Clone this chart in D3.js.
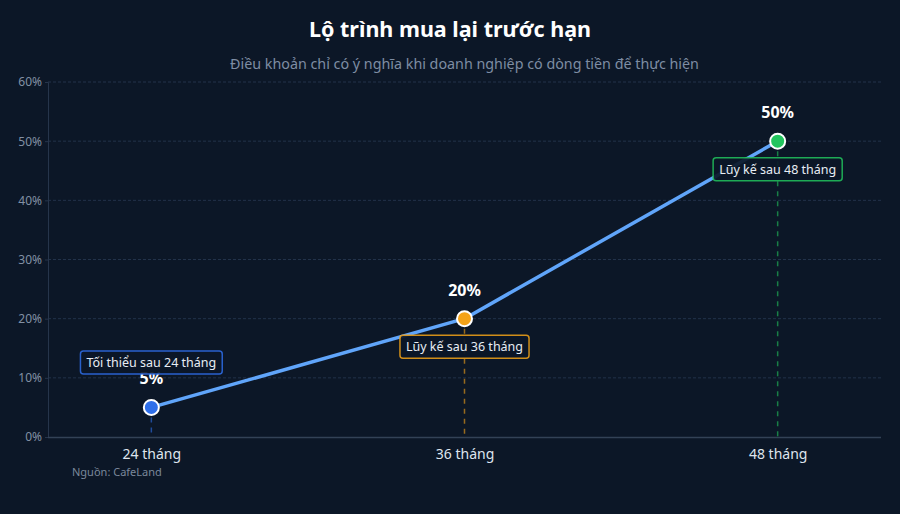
<!DOCTYPE html>
<html>
<head>
<meta charset="utf-8">
<script src="https://cdn.jsdelivr.net/npm/d3@7"></script>
<style>
  html, body { margin: 0; padding: 0; background: #0c1727; }
  svg { display: block; font-family: "Noto Sans", sans-serif; }
</style>
</head>
<body>
<svg id="chart"></svg>
<script>
const W = 900, H = 514;
const margin = { top: 82, right: 19, bottom: 77, left: 48 };

// data
const periods = ["24 tháng", "36 tháng", "48 tháng"];
const values = [5, 20, 50];
const pointColors = ["#2f6fea", "#f5a318", "#22c55e"];
const notes = ["Tối thiểu sau 24 tháng", "Lũy kế sau 36 tháng", "Lũy kế sau 48 tháng"];
const notePlace = ["above", "below", "below"];
const yTicks = [0, 10, 20, 30, 40, 50, 60];

const svg = d3.select("#chart").attr("width", W).attr("height", H);
svg.append("rect").attr("width", W).attr("height", H).attr("fill", "#0c1727");

const x = d3.scalePoint()
    .domain(periods)
    .range([margin.left, W - margin.right])
    .padding(0.33);

const y = d3.scaleLinear()
    .domain([0, 60])
    .range([H - margin.bottom, margin.top]);

// title
svg.append("text")
    .attr("x", W / 2).attr("y", 37)
    .attr("text-anchor", "middle")
    .attr("fill", "#ffffff")
    .attr("font-size", 21.5).attr("font-weight", 700)
    .text("Lộ trình mua lại trước hạn");

// subtitle sits centred over the plot area
svg.append("text")
    .attr("x", (margin.left + W - margin.right) / 2).attr("y", 69)
    .attr("text-anchor", "middle")
    .attr("fill", "#7e8da3")
    .attr("font-size", 14.3)
    .text("Điều khoản chỉ có ý nghĩa khi doanh nghiệp có dòng tiền để thực hiện");

// grid
svg.append("g")
    .selectAll("line")
    .data(yTicks.filter(d => d > 0))
    .join("line")
    .attr("x1", margin.left).attr("x2", W - margin.right)
    .attr("y1", d => y(d)).attr("y2", d => y(d))
    .attr("stroke", "#22324a")
    .attr("stroke-width", 1)
    .attr("stroke-dasharray", "3,2");

// y axis
const yAxis = svg.append("g")
    .attr("transform", `translate(${margin.left},0)`)
    .call(d3.axisLeft(y).tickValues(yTicks).tickFormat(d => d + "%").tickSize(3));
yAxis.select(".domain").attr("stroke", "#26354b");
yAxis.selectAll(".tick line").attr("stroke", "#26354b");
yAxis.selectAll(".tick text")
    .attr("fill", "#8290a4").attr("font-size", 12)
    .attr("font-family", "Noto Sans, sans-serif");

// x axis
const xAxis = svg.append("g")
    .attr("transform", `translate(0,${H - margin.bottom})`)
    .call(d3.axisBottom(x).tickSize(0).tickPadding(9));
xAxis.select(".domain")
    .attr("d", `M${margin.left},0.5H${W - margin.right}`)
    .attr("stroke", "#334256").attr("stroke-width", 1.5);
xAxis.selectAll(".tick text")
    .attr("fill", "#dfe5ee").attr("font-size", 14)
    .attr("font-family", "Noto Sans, sans-serif")
    .attr("dy", "0.9em");

// drop lines
svg.append("g")
    .selectAll("line")
    .data(values)
    .join("line")
    .attr("x1", (d, i) => x(periods[i])).attr("x2", (d, i) => x(periods[i]))
    .attr("y1", d => y(d)).attr("y2", y(0))
    .attr("stroke", (d, i) => pointColors[i])
    .attr("stroke-opacity", 0.6)
    .attr("stroke-width", 1.5)
    .attr("stroke-dasharray", "5,5");

// line
const line = d3.line()
    .x((d, i) => x(periods[i]))
    .y(d => y(d));

svg.append("path")
    .datum(values)
    .attr("d", line)
    .attr("fill", "none")
    .attr("stroke", "#60a5fa")
    .attr("stroke-width", 3.5)
    .attr("stroke-linecap", "round")
    .attr("stroke-linejoin", "round");

// points
svg.append("g")
    .selectAll("circle")
    .data(values)
    .join("circle")
    .attr("cx", (d, i) => x(periods[i]))
    .attr("cy", d => y(d))
    .attr("r", 7.5)
    .attr("fill", (d, i) => pointColors[i])
    .attr("stroke", "#ffffff")
    .attr("stroke-width", 2);

// value labels
svg.append("g")
    .selectAll("text")
    .data(values)
    .join("text")
    .attr("x", (d, i) => x(periods[i]))
    .attr("y", d => y(d) - 23)
    .attr("text-anchor", "middle")
    .attr("fill", "#ffffff")
    .attr("font-size", 16).attr("font-weight", 700)
    .text(d => d + "%");

// annotation boxes
const noteG = svg.append("g")
    .selectAll("g")
    .data(values)
    .join("g")
    .attr("transform", (d, i) => {
        const dy = notePlace[i] === "above" ? -45 : 28;
        return `translate(${x(periods[i])},${y(d) + dy})`;
    });

noteG.append("text")
    .attr("text-anchor", "middle")
    .attr("dy", "0.35em")
    .attr("fill", "#e8edf4")
    .attr("font-size", 12.5)
    .text((d, i) => notes[i]);

noteG.each(function (d, i) {
    const g = d3.select(this);
    const bb = g.select("text").node().getBBox();
    g.insert("rect", "text")
        .attr("x", bb.x - 6).attr("y", -11.5)
        .attr("width", bb.width + 12).attr("height", 23)
        .attr("rx", 3)
        .attr("fill", "#0c1727")
        .attr("fill-opacity", 0.92)
        .attr("stroke", pointColors[i])
        .attr("stroke-opacity", 0.85)
        .attr("stroke-width", 1.5);
});

// source
svg.append("text")
    .attr("x", 72).attr("y", 476)
    .attr("fill", "#7b889b")
    .attr("font-size", 11)
    .text("Nguồn: CafeLand");
</script>
</body>
</html>
